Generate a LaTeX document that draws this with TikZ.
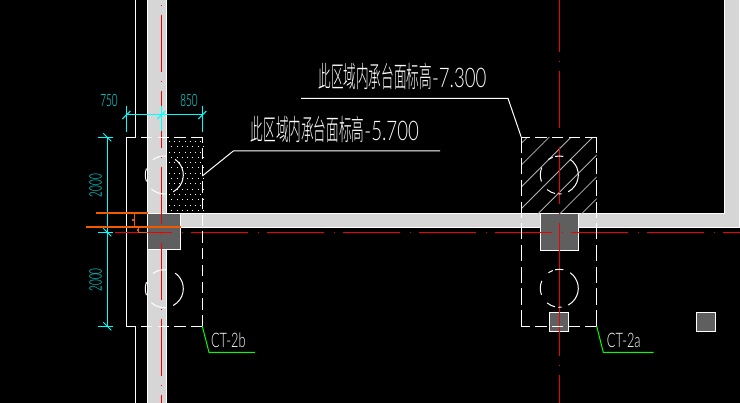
\documentclass[tikz,border=0pt]{standalone}
\usepackage{fontspec}
\setmainfont{Liberation Sans}
\newfontfamily\cjkfont[FakeStretch=0.435,UprightFont=* Light]{Noto Sans CJK SC}
\newfontfamily\noteafont[FakeStretch=0.69]{Lato Light}
\newfontfamily\tagfont[FakeStretch=0.64]{Lato Light}
\newfontfamily\dimfont[FakeStretch=0.58]{Lato Light}
\definecolor{wallgray}{HTML}{D6D6D6}
\definecolor{pierdark}{HTML}{5F5F5F}
\definecolor{hatchgray}{HTML}{B4B4B4}
\definecolor{cutorange}{HTML}{F05A00}
\definecolor{dimcyan}{HTML}{00FFFF}
\definecolor{leadgreen}{HTML}{00FF00}
\definecolor{axisred}{HTML}{F00000}
\tikzset{
  thinwhite/.style={draw=white,line width=1pt},
  wallfill/.style={fill=wallgray},
  pierbox/.style={fill=pierdark,draw=white,line width=1pt},
  axisv/.style={draw=axisred,line width=1pt,dash pattern=on 57pt off 9.5pt on 1pt off 8.5pt},
  dimline/.style={draw=dimcyan,line width=1pt},
  leaderg/.style={draw=leadgreen,line width=1pt},
  edgedash/.style={draw=white,line width=1pt,dash pattern=on 11.3pt off 5.4pt},
  sidedash/.style={draw=white,line width=1pt,dash pattern=on 16.2pt off 5.5pt},
  noterow/.style={text=white,inner sep=0pt,anchor=base west},
  tagrow/.style={text=white,inner sep=0pt,anchor=center,font=\tagfont\fontsize{20}{20}\selectfont},
  dimrow/.style={text=dimcyan,inner sep=0pt,anchor=center,font=\dimfont\fontsize{17}{17}\selectfont}
}
\begin{document}
\begin{tikzpicture}[x=1pt,y=1pt]
        \useasboundingbox (0,0) rectangle (740,-403);
        \fill [black] (0,0) rectangle (740,-403);

        \fill [wallfill] (147.5,0) rectangle (166.7,-403);
        \fill [wallfill] (166.7,-213.3) rectangle (739,-227.3);
        \fill [wallfill] (724,0) rectangle (739,-227.3);
        \draw [thinwhite] (147.5,0) -- (147.5,-403);
        \draw [thinwhite] (166.7,0) -- (166.7,-213.3) -- (724,-213.3) -- (724,0);
        \draw [thinwhite] (739,0) -- (739,-227.3) -- (180.7,-227.3);
        \draw [thinwhite] (166.7,-250) -- (166.7,-403);
        \draw [thinwhite] (135.7,0) -- (135.7,-137.3) -- (126.3,-137.3) -- (126.3,-326.3) -- (135.7,-326.3) -- (135.7,-403);

        \draw [pierbox] (147.5,-213.3) rectangle (180.7,-250);
        \draw [pierbox] (540.3,-213.3) rectangle (578.7,-250.7);
        \draw [pierbox] (549.3,-312.3) rectangle (568.7,-331.3);
        \draw [pierbox] (696.3,-312.3) rectangle (715.7,-331.3);

        \foreach \r in {0,...,13}
          \foreach \c in {0,...,6}
            \fill [white] ({168.6+5.3*\c+mod(\r,2)*2.6},{-141-5.3*\r}) rectangle +(1,-1);

        \begin{scope}
          \clip (521.3,-137.3) rectangle (596.7,-213.3);
          \foreach \k in {0,...,6}
            \draw [hatchgray,line width=0.8pt] (521.3,{-(143.3+21.8*\k)}) -- +(120,120);
        \end{scope}

        \draw [axisv] (161.3,61) -- (161.3,-403);
        \draw [axisv] (559.3,5) -- (559.3,-223);
        \draw [axisred,line width=1pt] (559.3,-223) -- (559.3,-356);
        \draw [axisv] (559.3,-299) -- (559.3,-403);
        \draw [axisv] (115.2,-232.3) -- (740,-232.3);

        \draw [edgedash] (202.3,-137.3) -- (138,-137.3);
        \draw [edgedash] (202.3,-326.3) -- (138,-326.3);
        \draw [edgedash] (202.3,-326.3) -- (202.3,-137.3);
        \draw [edgedash] (596.7,-137.3) -- (521.3,-137.3);
        \draw [edgedash] (596.7,-326.3) -- (521.3,-326.3);
        \draw [sidedash] (521.3,-326.3) -- (521.3,-137.3);
        \draw [sidedash] (596.7,-326.3) -- (596.7,-137.3);

        \foreach \cy in {175,288.7}
          \foreach \a/\b in {200/160,127/83,55/-62,-83/-133}
            \draw [thinwhite] ([shift=(\a:19)]164.3,-\cy) arc (\a:\b:19);
        \foreach \cy in {175,288.3}
          \foreach \a/\b in {103/78,125/110,200/157,-103/-130,-83/-93,55/-62}
            \draw [thinwhite] ([shift=(\a:19)]559.3,-\cy) arc (\a:\b:19);

        \draw [dimline] (126.3,-115) -- (202.3,-115);
        \draw [dimline] (126.3,-106) -- (126.3,-132);
        \draw [dimline] (161.3,-106) -- (161.3,-131);
        \draw [dimline] (202.3,-106) -- (202.3,-132);
        \foreach \x in {126.3,161.3,202.3}
          \draw [dimline] (\x-4,-119) -- (\x+4,-111);
        \draw [dimline] (107.3,-137.3) -- (107.3,-326.3);
        \foreach \y in {137.3,232.3,326.3} {
          \draw [dimline] (98,-\y) -- (113,-\y);
          \draw [dimline] (103.3,-\y+4) -- (111.3,-\y-4);
        }
        \node [dimrow] (dimA) at (109,-100) {750};
        \node [dimrow] (dimB) at (189,-100) {850};
        \node [dimrow,rotate=90] (dimC) at (95.7,-185.7) {2000};
        \node [dimrow,rotate=90] (dimD) at (95.7,-280) {2000};

        \draw [cutorange,line width=2pt] (96,-212.7) -- (147.5,-212.7);
        \draw [cutorange,line width=2pt] (86,-226.7) -- (180.7,-226.7);
        \draw [cutorange,line width=1pt] (134.3,-213) -- (134.3,-227);
        \fill [cutorange] (132,-219) rectangle +(2,-2);
        \draw [cutorange,line width=1pt] (138.3,-227) -- (138.3,-232.3) -- (147.5,-232.3);
        \fill [cutorange] (136.6,-229) rectangle +(2,-2);

        \draw [thinwhite] (202.3,-176) -- (233.3,-151) -- (440,-151);
        \draw [thinwhite] (301,-98.3) -- (508,-98.3) -- (521.3,-137.3);
        \node [noterow] (noteA) at (250.7,-140.8) {\fontsize{29}{29}\cjkfont 此区域内承台面标高\noteafont\fontsize{27}{27}\selectfont -5.700};
        \node [noterow] (noteB) at (318.3,-87.8) {\fontsize{29}{29}\cjkfont 此区域内承台面标高\noteafont\fontsize{27}{27}\selectfont -7.300};

        \draw [leaderg] (202.3,-326.3) -- (209,-352.3) -- (255,-352.3);
        \draw [leaderg] (596.7,-326.3) -- (603.3,-352.3) -- (653.7,-352.3);
        \node [tagrow] (tagB) at (228.3,-340) {CT-2b};
        \node [tagrow] (tagA) at (623.8,-340) {CT-2a};
\end{tikzpicture}
\end{document}
